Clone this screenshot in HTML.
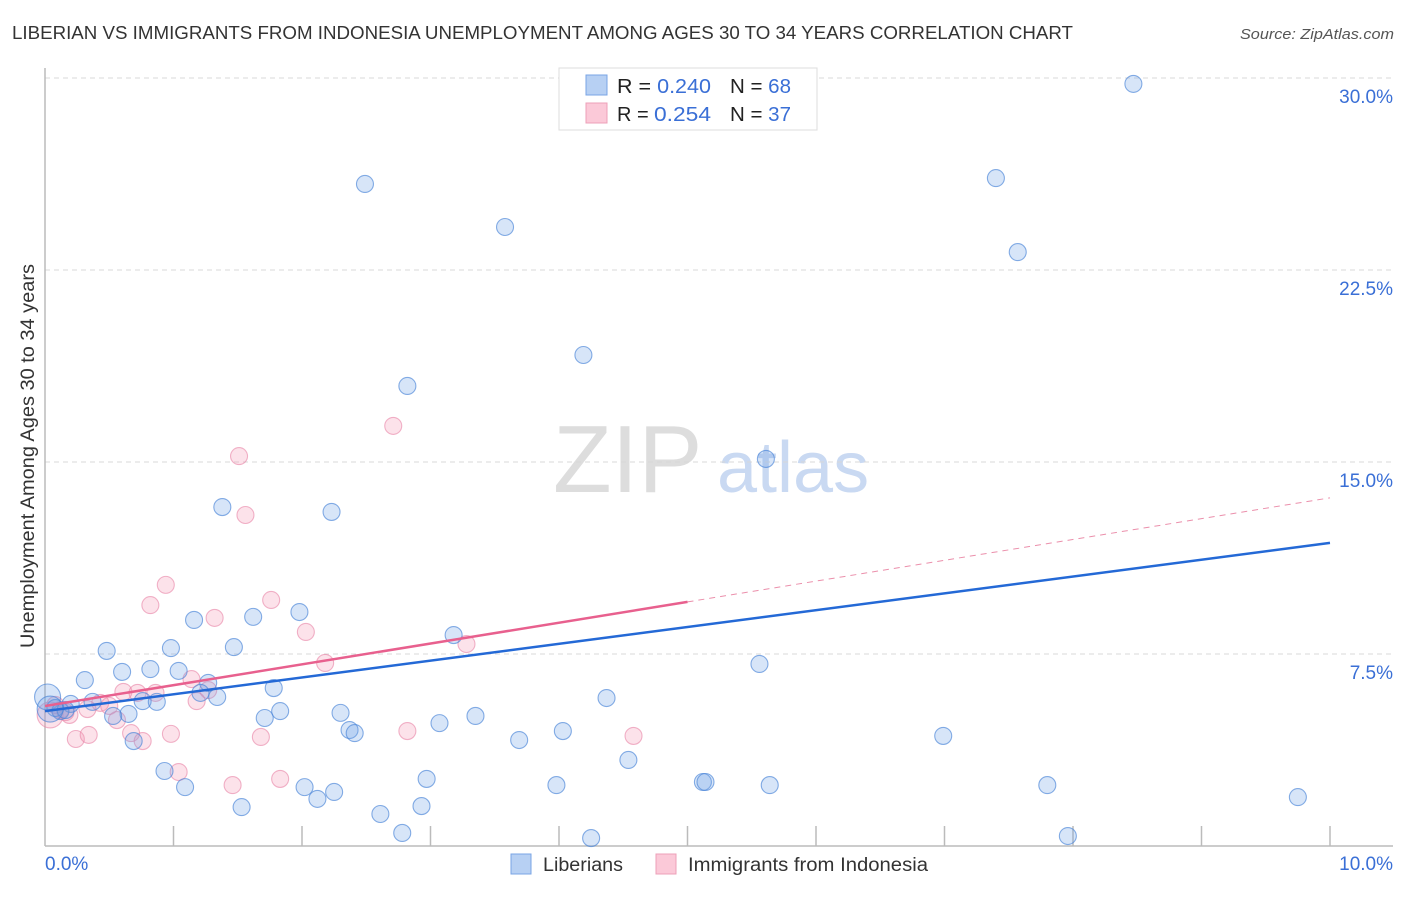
<!DOCTYPE html>
<html><head><meta charset="utf-8"><style>
body{margin:0;background:#fff;font-family:"Liberation Sans",sans-serif;}
svg text{font-family:"Liberation Sans",sans-serif;}
</style></head><body>
<svg id="chart" width="1406" height="892" viewBox="0 0 1406 892" xmlns="http://www.w3.org/2000/svg">
<text x="12" y="39" font-size="18" fill="#333" textLength="1061" lengthAdjust="spacingAndGlyphs">LIBERIAN VS IMMIGRANTS FROM INDONESIA UNEMPLOYMENT AMONG AGES 30 TO 34 YEARS CORRELATION CHART</text>
<text x="1240" y="39" font-size="15" fill="#555" font-style="italic" textLength="154" lengthAdjust="spacingAndGlyphs">Source: ZipAtlas.com</text>
<g>
<text x="553" y="492" font-size="96" fill="#ddd" font-family="Liberation Serif, serif">ZIP</text>
<text x="717" y="492" font-size="72" fill="#c9d9f2">atlas</text>
</g>
<g id="grid"></g>
<g id="axes"></g>
<g id="marks"></g>
<g id="lines"></g>
<text transform="translate(34,456) rotate(-90)" font-size="19" fill="#333" text-anchor="middle" textLength="384" lengthAdjust="spacingAndGlyphs">Unemployment Among Ages 30 to 34 years</text>
<g>
<rect x="559" y="68" width="258" height="62" fill="#fff" stroke="#ddd"/>
<rect x="586" y="75" width="21" height="20" fill="#b7d0f3" stroke="#7aa4e4"/>
<rect x="586" y="103" width="21" height="20" fill="#fbc9d8" stroke="#eea0b8"/>
<text x="617" y="93" font-size="20" fill="#222" textLength="94" lengthAdjust="spacingAndGlyphs">R = <tspan fill="#3a6fd6">0.240</tspan></text>
<text x="730" y="93" font-size="20" fill="#222" textLength="61" lengthAdjust="spacingAndGlyphs">N = <tspan fill="#3a6fd6">68</tspan></text>
<text x="617" y="121" font-size="20" fill="#222">R =</text>
<text x="654" y="121" font-size="20" fill="#3a6fd6" textLength="57" lengthAdjust="spacingAndGlyphs">0.254</text>
<text x="730" y="121" font-size="20" fill="#222" textLength="61" lengthAdjust="spacingAndGlyphs">N = <tspan fill="#3a6fd6">37</tspan></text>
</g>
<g>
<rect x="511" y="854" width="20" height="20" fill="#b7d0f3" stroke="#7aa4e4"/>
<text x="543" y="871" font-size="19" fill="#333" textLength="80" lengthAdjust="spacingAndGlyphs">Liberians</text>
<rect x="656" y="854" width="20" height="20" fill="#fbc9d8" stroke="#eea0b8"/>
<text x="688" y="871" font-size="19" fill="#333" textLength="240" lengthAdjust="spacingAndGlyphs">Immigrants from Indonesia</text>
</g>
</svg>
<script>
const yTicks=[7.5,15,22.5,30];
const yTickLabels=["7.5%","15.0%","22.5%","30.0%"];
const xTicks=[1,2,3,4,5,6,7,8,9,10];
const blueX=[2.49,3.58,8.47,7.40,7.57,4.19,2.82,5.61,1.38,2.23,1.98,1.62,1.16,3.18,0.98,1.47,0.48,5.56,0.60,0.82,1.04,0.31,1.27,1.78,4.37,0.02,1.21,1.34,0.37,0.76,0.87,0.20,0.65,0.53,1.71,1.83,2.30,3.35,3.07,2.37,2.41,4.03,3.69,6.99,0.69,0.12,0.08,0.93,4.54,2.97,1.09,2.02,2.25,2.12,3.98,5.12,5.14,5.64,7.80,9.75,1.53,2.93,2.61,2.78,4.25,7.96,0.16,0.04];
const blueY=[25.86,24.18,29.77,26.09,23.20,19.18,17.97,15.12,13.24,13.05,9.14,8.95,8.83,8.24,7.73,7.77,7.62,7.11,6.80,6.91,6.84,6.48,6.37,6.17,5.78,5.82,5.98,5.82,5.63,5.66,5.63,5.55,5.16,5.08,5.00,5.27,5.20,5.08,4.80,4.53,4.41,4.49,4.14,4.30,4.10,5.27,5.39,2.93,3.36,2.62,2.30,2.30,2.11,1.84,2.38,2.50,2.50,2.38,2.38,1.91,1.52,1.56,1.25,0.51,0.31,0.39,5.31,5.35];
const pinkX=[2.71,1.51,1.56,0.94,0.82,1.76,1.32,2.03,2.18,3.28,1.14,1.27,0.61,0.72,0.86,1.18,0.43,0.50,0.12,0.19,0.04,0.56,0.67,0.24,0.34,0.76,0.98,2.82,4.58,1.68,1.04,1.46,1.83,0.08,0.16,0.33];
const pinkY=[16.41,15.23,12.93,10.20,9.41,9.61,8.91,8.36,7.15,7.89,6.52,6.09,6.02,5.98,5.98,5.66,5.59,5.47,5.31,5.12,5.12,4.92,4.41,4.18,4.34,4.10,4.38,4.49,4.30,4.26,2.89,2.38,2.62,5.51,5.23,5.35];
const blueTrend=[5.27,11.84];
const pinkTrend=[5.47,13.6];
const pinkSolidEnd=5.0;
const NS="http://www.w3.org/2000/svg";
const sx=v=>45+v*128.5, sy=v=>846-v*25.6;
function mk(t,a,p){const e=document.createElementNS(NS,t);for(const k in a)e.setAttribute(k,a[k]);document.getElementById(p).appendChild(e);return e;}
yTicks.forEach((t,i)=>{
 const g=mk('line',{x1:45,x2:1393,y1:sy(t),y2:sy(t),stroke:'#d8d8d8','stroke-dasharray':'5,4'},'grid');
 
 
 const l=mk('text',{x:1393,y:sy(t)+25,'font-size':19,fill:'#3a6fd6','text-anchor':'end'},'axes');
 l.textContent=yTickLabels[i];
 
 
});
const ax=mk('line',{x1:45,x2:1393,y1:846,y2:846,stroke:'#bbb','stroke-width':1.5},'axes');


const ay=mk('line',{x1:45,x2:45,y1:68,y2:846,stroke:'#bbb','stroke-width':1.5},'axes');


xTicks.forEach(t=>{const k=mk('line',{x1:sx(t),x2:sx(t),y1:826,y2:846,stroke:'#bbb','stroke-width':1.5},'axes');
 
 });
const x0=mk('text',{x:45,y:870,'font-size':19,fill:'#3a6fd6'},'axes');x0.textContent='0.0%';


const x1=mk('text',{x:1393,y:870,'font-size':19,fill:'#3a6fd6','text-anchor':'end'},'axes');x1.textContent='10.0%';


function pts(X,Y,fill,stroke,name){X.forEach((x,i)=>{const big=(x<0.05&&Math.abs(Y[i]-5.5)<0.6);
 const c=mk('circle',{cx:sx(x),cy:sy(Y[i]),r:big?13:8.5,fill:fill,stroke:stroke,'stroke-width':1.1},'marks');
 
 });}
pts(pinkX,pinkY,'rgba(244,150,180,0.28)','rgba(232,130,165,0.6)','indonesia-point');
pts(blueX,blueY,'rgba(110,160,230,0.28)','rgba(70,130,215,0.65)','liberian-point');
const bl=mk('line',{x1:sx(0),y1:sy(blueTrend[0]),x2:sx(10),y2:sy(blueTrend[1]),stroke:'#2469d6','stroke-width':2.5},'lines');


const pm=pinkTrend[0]+(pinkTrend[1]-pinkTrend[0])*pinkSolidEnd/10;
const pl=mk('line',{x1:sx(0),y1:sy(pinkTrend[0]),x2:sx(pinkSolidEnd),y2:sy(pm),stroke:'#e8608e','stroke-width':2.5},'lines');


const pd=mk('line',{x1:sx(pinkSolidEnd),y1:sy(pm),x2:sx(10),y2:sy(pinkTrend[1]),stroke:'#eb8fab','stroke-width':1,'stroke-dasharray':'6,5'},'lines');


</script>
</body></html>
